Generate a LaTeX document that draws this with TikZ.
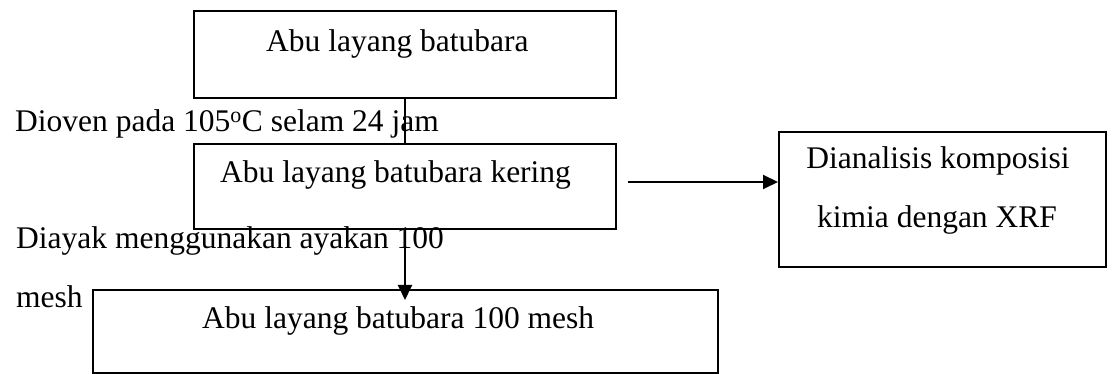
\documentclass[tikz,border=0pt]{standalone}
\usepackage{fontspec}
\setmainfont{Liberation Serif}
\usetikzlibrary{arrows.meta,calc}
\begin{document}
\begin{tikzpicture}[x=1pt,y=-1pt,
  box/.style={draw=black,line width=2pt,rectangle,inner sep=0pt,anchor=north west},
  txt/.style={inner sep=0pt,anchor=base west,font=\fontsize{31.5}{38}\selectfont},
  ctxt/.style={inner sep=0pt,anchor=base,font=\fontsize{31.5}{38}\selectfont},
  arr/.style={line width=2pt,-{Triangle[length=15pt,width=14pt]}},
  ln/.style={line width=2pt}]
\useasboundingbox (0,0) rectangle (1112,374);
% boxes
\node[box,minimum width=422pt,minimum height=87pt] (b1) at (193,10) {};
\node[box,minimum width=422pt,minimum height=85pt] (b2) at (193,143) {};
\node[box,minimum width=625pt,minimum height=83pt] (b3) at (92,289) {};
\node[box,minimum width=327pt,minimum height=135pt] (b4) at (778,131) {};
% box texts
\node[txt] (t1) at (266,52) {Abu layang batubara};
\node[txt] (t2) at (220,183) {Abu layang batubara kering};
\node[txt] (t3) at (202,328) {Abu layang batubara 100 mesh};
\node[ctxt] (t4a) at (938,169) {Dianalisis komposisi};
\node[ctxt] (t4b) at (937,228) {kimia dengan XRF};
% side labels
\node[txt] (l1) at (15,132) {Dioven pada 105\textsuperscript{o}C selam 24 jam};
\node[txt] (l2) at (16,249) {Diayak menggunakan ayakan 100};
\node[txt] (l3) at (16,308) {mesh};
% connectors
\coordinate (c1) at (405,0);
\coordinate (h0) at (628,182);
\draw[ln] (b1.south -| c1) -- (b2.north -| c1);
\draw[arr,shorten >=-11pt] (b2.south -| c1) -- (b3.north -| c1);
\draw[arr] (h0) -- (h0 -| b4.west);
\end{tikzpicture}
\end{document}
